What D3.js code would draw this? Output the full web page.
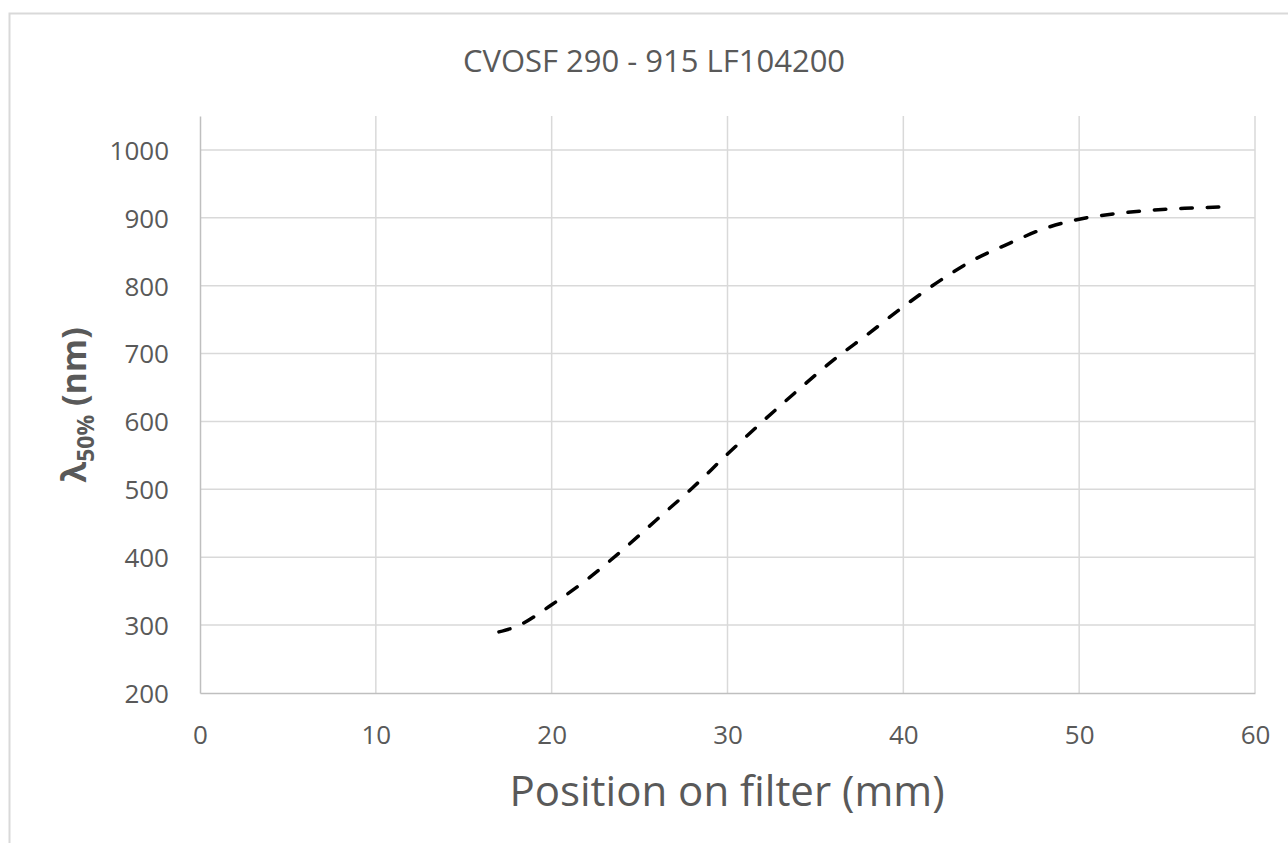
<!DOCTYPE html>
<html>
<head>
<meta charset="utf-8">
<script src="https://cdn.jsdelivr.net/npm/d3@7"></script>
<style>
  html, body { margin: 0; padding: 0; background: #fff; }
  svg { display: block; }
  svg text { font-family: "Open Sans", "Noto Sans", sans-serif; }
</style>
</head>
<body>
<div id="chart"></div>
<script>
// Data
const positions = [17, 18, 20, 22, 24, 26, 28, 30, 32, 34, 36, 38, 40, 42, 44, 46, 48, 50, 52, 54, 56, 58];
const lambda50 = [290, 298, 330, 367, 410, 456, 502, 552, 600, 646, 690, 729, 769, 806, 838, 862, 884, 898, 906, 911, 914, 916];
const xTicks = [0, 10, 20, 30, 40, 50, 60];
const yTicks = [200, 300, 400, 500, 600, 700, 800, 900, 1000];

const WIDTH = 1288, HEIGHT = 843;
const PLOT = { left: 200, right: 1255, top: 116, bottom: 693 };
const FONT = '"Open Sans", "Noto Sans", sans-serif';
const COLORS = { text: '#595959', grid: '#d9d9d9', axis: '#bfbfbf', frame: '#d9d9d9', line: '#000' };

const svg = d3.select('#chart').append('svg')
    .attr('width', WIDTH)
    .attr('height', HEIGHT);

// Chart frame (only top and left edges visible in the reference)
svg.append('rect')
    .attr('x', 9.5).attr('y', 13.5)
    .attr('width', WIDTH + 20).attr('height', HEIGHT + 20)
    .attr('fill', 'none')
    .attr('stroke', COLORS.frame)
    .attr('stroke-width', 2);

// Scales
const x = d3.scaleLinear().domain([0, 60]).range([PLOT.left, PLOT.right]);
const y = d3.scaleLinear().domain([200, 1050]).range([PLOT.bottom, PLOT.top]);

// Gridlines
svg.append('g')
    .selectAll('line')
    .data(yTicks.slice(1))
    .join('line')
    .attr('x1', PLOT.left).attr('x2', PLOT.right)
    .attr('y1', d => y(d)).attr('y2', d => y(d))
    .attr('stroke', COLORS.grid).attr('stroke-width', 1.5);

svg.append('g')
    .selectAll('line')
    .data(xTicks.slice(1))
    .join('line')
    .attr('x1', d => x(d)).attr('x2', d => x(d))
    .attr('y1', PLOT.top).attr('y2', PLOT.bottom)
    .attr('stroke', COLORS.grid).attr('stroke-width', 1.5);

// Axes
const xAxis = svg.append('g')
    .attr('transform', `translate(0,${PLOT.bottom})`)
    .call(d3.axisBottom(x).tickValues(xTicks).tickFormat(d3.format('d')).tickSize(0).tickPadding(0))
    .attr('font-family', FONT)
    .attr('font-size', 26);
xAxis.select('.domain').attr('stroke', COLORS.axis).attr('stroke-width', 1.5);
xAxis.selectAll('text')
    .attr('y', 51)
    .attr('dy', 0)
    .attr('fill', COLORS.text);

const yAxis = svg.append('g')
    .attr('transform', `translate(${PLOT.left},0)`)
    .call(d3.axisLeft(y).tickValues(yTicks).tickFormat(d3.format('d')).tickSize(0).tickPadding(0))
    .attr('font-family', FONT)
    .attr('font-size', 26);
yAxis.select('.domain').attr('stroke', COLORS.axis).attr('stroke-width', 1.5);
yAxis.selectAll('text')
    .attr('x', -31)
    .attr('dy', '0.36em')
    .attr('fill', COLORS.text);

// Series line
const line = d3.line()
    .x((d, i) => x(positions[i]))
    .y(d => y(d))
    .curve(d3.curveMonotoneX);

svg.append('path')
    .datum(lambda50)
    .attr('d', line)
    .attr('fill', 'none')
    .attr('stroke', COLORS.line)
    .attr('stroke-width', 3.5)
    .attr('stroke-linecap', 'round')
    .attr('stroke-dasharray', '11.5 15');

// Title
svg.append('text')
    .attr('x', 654).attr('y', 72)
    .attr('text-anchor', 'middle')
    .attr('fill', COLORS.text)
    .style('font-size', '31px')
    .text('CVOSF 290 - 915 LF104200');

// X axis title
svg.append('text')
    .attr('x', 727).attr('y', 806)
    .attr('text-anchor', 'middle')
    .attr('fill', COLORS.text)
    .style('font-size', '42px')
    .text('Position on filter (mm)');

// Y axis title with subscript
const yTitle = svg.append('text')
    .attr('transform', 'translate(86,405) rotate(-90)')
    .attr('text-anchor', 'middle')
    .attr('fill', COLORS.text)
    .style('font-size', '34px')
    .style('font-weight', 'bold');
yTitle.append('tspan').text('λ');
yTitle.append('tspan').attr('dy', 8).style('font-size', '23px').text('50%');
yTitle.append('tspan').attr('dy', -8).text(' (nm)');
</script>
</body>
</html>
